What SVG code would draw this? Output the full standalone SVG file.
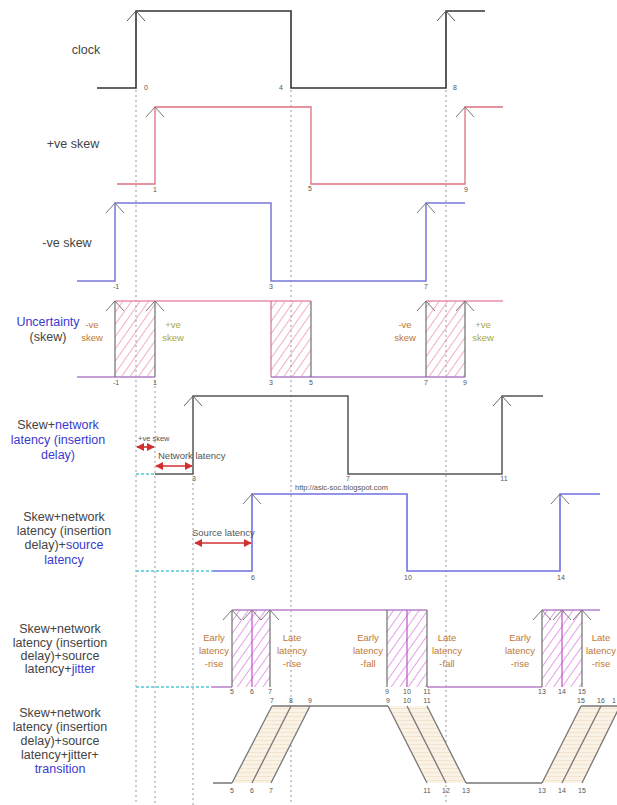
<svg xmlns="http://www.w3.org/2000/svg" xmlns:xlink="http://www.w3.org/1999/xlink" width="617" height="805" viewBox="0 0 617 805">
<style>
.w{fill:none;stroke-linejoin:miter}
.clk{stroke:#333;stroke-width:1.6}
.pos{stroke:#e07080;stroke-width:1.3}
.neg{stroke:#7878d8;stroke-width:1.5}
.ut{stroke:#e890b0;stroke-width:1.4}
.ub{stroke:#b080c8;stroke-width:1.4}
.edge{stroke:#707070;stroke-width:1.2}
.net{stroke:#555;stroke-width:1.5}
.src{stroke:#7070e0;stroke-width:1.6}
.jit{stroke:#b880c8;stroke-width:1.4}
.mid{stroke:#c050c8;stroke-width:1.2}
.tr{stroke:#777;stroke-width:1.3}
.dot{stroke:#999;stroke-width:1;stroke-dasharray:2 3}
.cy{stroke:#50c8d8;stroke-width:1.4;stroke-dasharray:3 2}
.arr{stroke:#d03030;stroke-width:1.6;marker-start:url(#ah);marker-end:url(#ah)}
text{font-family:"Liberation Sans",Arial,sans-serif}
.lbl{font-size:12.5px;fill:#444;text-anchor:middle}
.b{fill:#3a3ad0}
.num{font-size:7px;fill:#555;text-anchor:middle}
.so{font-size:9.5px;fill:#c07838;text-anchor:middle}
.sg{font-size:9.5px;fill:#a8a848;text-anchor:middle}
.an{font-size:9.5px;fill:#555}
</style>
<defs>
<path id="chev" d="M-9,10 L0,0 L9,10" fill="none"/>
<marker id="ah" viewBox="0 0 10 10" refX="9" refY="5" markerWidth="5" markerHeight="5" orient="auto-start-reverse"><path d="M0,0 L10,5 L0,10 Z" fill="#d03030"/></marker>
<pattern id="hR" patternUnits="userSpaceOnUse" width="7" height="7" patternTransform="rotate(35)"><line x1="0" y1="0" x2="0" y2="7" stroke="#e87898" stroke-width="1.2"/></pattern>
<pattern id="hM" patternUnits="userSpaceOnUse" width="7" height="7" patternTransform="rotate(35)"><line x1="0" y1="0" x2="0" y2="7" stroke="#d060d8" stroke-width="1.2"/></pattern>
<pattern id="tf" patternUnits="userSpaceOnUse" width="4" height="4"><rect width="4" height="4" fill="#fbf2e6"/><line x1="0" y1="0.5" x2="4" y2="0.5" stroke="#f3e4d0" stroke-width="1"/></pattern>
</defs>
<rect width="617" height="805" fill="#fff"/>

<g id="guides">
<line class="dot" x1="136" y1="90" x2="136" y2="805"/>
<line class="dot" x1="291" y1="90" x2="291" y2="805"/>
<line class="dot" x1="446" y1="90" x2="446" y2="805"/>
<line class="dot" x1="155" y1="381" x2="155" y2="805"/>
<line class="dot" x1="193" y1="478" x2="193" y2="805"/>
</g>

<g id="clock">
<text class="lbl" x="86" y="54">clock</text>
<path class="w clk" d="M97,88 H136 V11 H291 V88 H446 V11 H485"/>
<use href="#chev" x="136" y="11" stroke="#555" stroke-width="1"/>
<use href="#chev" x="446" y="11" stroke="#555" stroke-width="1"/>
<text class="num" x="146" y="90">0</text>
<text class="num" x="281" y="90">4</text>
<text class="num" x="455" y="90">8</text>
</g>

<g id="pos-skew">
<text class="lbl" x="73" y="148">+ve skew</text>
<path class="w pos" d="M117,184 H155 V107 H311 V184 H465 V107 H503"/>
<use href="#chev" x="155" y="107" stroke="#777" stroke-width="1"/>
<use href="#chev" x="465" y="107" stroke="#777" stroke-width="1"/>
<text class="num" x="155" y="192">1</text>
<text class="num" x="310" y="191">5</text>
<text class="num" x="466" y="192">9</text>
</g>

<g id="neg-skew">
<text class="lbl" x="67" y="247">-ve skew</text>
<path class="w neg" d="M77,281 H115 V203 H271 V281 H426 V203 H465"/>
<use href="#chev" x="115" y="203" stroke="#777" stroke-width="1"/>
<use href="#chev" x="426" y="203" stroke="#777" stroke-width="1"/>
<text class="num" x="116" y="289">-1</text>
<text class="num" x="271" y="289">3</text>
<text class="num" x="426" y="289">7</text>
</g>

<g id="uncertainty">
<text class="lbl b" x="48" y="326">Uncertainty</text>
<text class="lbl" x="48" y="341">(skew)</text>
<rect x="115" y="301" width="40" height="76" fill="url(#hR)"/>
<rect x="271" y="301" width="40" height="76" fill="url(#hR)"/>
<rect x="426" y="301" width="39" height="76" fill="url(#hR)"/>
<path class="w ut" d="M115,301 H311 M426,301 H503"/>
<path class="w ub" d="M77,377 H155 M271,377 H465"/>
<path class="w edge" d="M115,301 V377 M155,301 V377 M311,301 V377 M426,301 V377 M465,301 V377"/>
<path class="w" stroke="#d87090" stroke-width="1.2" d="M271,301 V377"/>
<use href="#chev" x="115" y="301" stroke="#777" stroke-width="1"/>
<use href="#chev" x="155" y="301" stroke="#777" stroke-width="1"/>
<use href="#chev" x="426" y="301" stroke="#777" stroke-width="1"/>
<use href="#chev" x="465" y="301" stroke="#777" stroke-width="1"/>
<text class="so" x="92" y="328">-ve</text>
<text class="so" x="92" y="341">skew</text>
<text class="sg" x="173" y="328">+ve</text>
<text class="sg" x="173" y="341">skew</text>
<text class="so" x="405" y="328">-ve</text>
<text class="so" x="405" y="341">skew</text>
<text class="sg" x="483" y="328">+ve</text>
<text class="sg" x="483" y="341">skew</text>
<text class="num" x="116" y="385">-1</text>
<text class="num" x="155" y="385">1</text>
<text class="num" x="271" y="385">3</text>
<text class="num" x="311" y="385">5</text>
<text class="num" x="426" y="385">7</text>
<text class="num" x="465" y="385">9</text>
</g>

<g id="network-latency">
<text class="lbl" x="58" y="429">Skew+<tspan class="b">network</tspan></text>
<text class="lbl b" x="58" y="444">latency (insertion</text>
<text class="lbl b" x="58" y="459">delay)</text>
<line class="cy" x1="136" y1="474" x2="155" y2="474"/>
<path class="w net" d="M155,474 H193 V396 H348 V474 H502 V396 H543"/>
<use href="#chev" x="193" y="396" stroke="#666" stroke-width="1"/>
<use href="#chev" x="502" y="396" stroke="#666" stroke-width="1"/>
<text class="an" x="138" y="441" style="font-size:7.5px">+ve skew</text>
<line class="arr" x1="137" y1="447" x2="154" y2="447"/>
<text class="an" x="158" y="459">Network latency</text>
<line class="arr" x1="156" y1="466" x2="192" y2="466"/>
<text class="num" x="194" y="481">3</text>
<text class="num" x="348" y="481">7</text>
<text class="num" x="504" y="481">11</text>
</g>

<g id="source-latency">
<text class="lbl" x="64" y="521">Skew+network</text>
<text class="lbl" x="64" y="535">latency (insertion</text>
<text class="lbl" x="64" y="549">delay)+<tspan class="b">source</tspan></text>
<text class="lbl b" x="64" y="564">latency</text>
<text x="295" y="490" style="font-size:7.5px;fill:#555">http://asic-soc.blogspot.com</text>
<line class="cy" x1="136" y1="571" x2="213" y2="571"/>
<path class="w src" d="M213,571 H252 V494 H407 V571 H560 V494 H600"/>
<use href="#chev" x="252" y="494" stroke="#777" stroke-width="1"/>
<use href="#chev" x="560" y="494" stroke="#777" stroke-width="1"/>
<text class="an" x="192" y="536">Source latency</text>
<line class="arr" x1="195" y1="543" x2="251" y2="543"/>
<text class="num" x="253" y="580">6</text>
<text class="num" x="408" y="580">10</text>
<text class="num" x="561" y="580">14</text>
</g>

<g id="jitter">
<text class="lbl" x="60" y="633">Skew+network</text>
<text class="lbl" x="60" y="647">latency (insertion</text>
<text class="lbl" x="60" y="660">delay)+source</text>
<text class="lbl" x="60" y="673">latency+<tspan class="b">jitter</tspan></text>
<line class="cy" x1="136" y1="687" x2="212" y2="687"/>
<rect x="232" y="610" width="38" height="77" fill="url(#hM)"/>
<rect x="387" y="610" width="40" height="77" fill="url(#hM)"/>
<rect x="542" y="610" width="40" height="77" fill="url(#hM)"/>
<path class="w jit" d="M212,687 H232 M427,687 H542 M232,610 H427 M542,610 H600"/>
<path class="w edge" d="M232,610 V687 M270,610 V687 M387,610 V687 M427,610 V687 M542,610 V687 M582,610 V687"/>
<path class="w mid" d="M252,610 V687 M407,610 V687 M562,610 V687"/>
<use href="#chev" x="232" y="610" stroke="#777" stroke-width="1"/>
<use href="#chev" x="252" y="610" stroke="#777" stroke-width="1"/>
<use href="#chev" x="270" y="610" stroke="#777" stroke-width="1"/>
<use href="#chev" x="542" y="610" stroke="#777" stroke-width="1"/>
<use href="#chev" x="562" y="610" stroke="#777" stroke-width="1"/>
<use href="#chev" x="582" y="610" stroke="#777" stroke-width="1"/>
<text class="so" x="214" y="641">Early</text>
<text class="so" x="214" y="654">latency</text>
<text class="so" x="214" y="667">-rise</text>
<text class="so" x="292" y="641">Late</text>
<text class="so" x="292" y="654">latency</text>
<text class="so" x="292" y="667">-rise</text>
<text class="so" x="368" y="641">Early</text>
<text class="so" x="368" y="654">latency</text>
<text class="so" x="368" y="667">-fall</text>
<text class="so" x="447" y="641">Late</text>
<text class="so" x="447" y="654">latency</text>
<text class="so" x="447" y="667">-fall</text>
<text class="so" x="520" y="641">Early</text>
<text class="so" x="520" y="654">latency</text>
<text class="so" x="520" y="667">-rise</text>
<text class="so" x="601" y="641">Late</text>
<text class="so" x="601" y="654">latency</text>
<text class="so" x="601" y="667">-rise</text>
<text class="num" x="232" y="694">5</text>
<text class="num" x="252" y="694">6</text>
<text class="num" x="270" y="694">7</text>
<text class="num" x="387" y="694">9</text>
<text class="num" x="407" y="694">10</text>
<text class="num" x="427" y="694">11</text>
<text class="num" x="542" y="694">13</text>
<text class="num" x="562" y="694">14</text>
<text class="num" x="582" y="694">15</text>
</g>

<g id="transition">
<text class="lbl" x="60" y="717">Skew+network</text>
<text class="lbl" x="60" y="731">latency (insertion</text>
<text class="lbl" x="60" y="745">delay)+source</text>
<text class="lbl" x="60" y="759">latency+jitter+</text>
<text class="lbl b" x="60" y="773">transition</text>
<polygon points="232,783 272,706 310,706 271,783" fill="url(#tf)"/>
<polygon points="388,706 427,706 466,783 427,783" fill="url(#tf)"/>
<polygon points="542,783 581,706 620,706 582,783" fill="url(#tf)"/>
<path class="w tr" d="M213,783 H232 M466,783 H542 M272,706 H388 M581,706 H617"/>
<path class="w tr" d="M232,783 L272,706 M252,783 L291,706 M271,783 L310,706"/>
<path class="w tr" d="M388,706 L427,783 M407,706 L446,783 M427,706 L466,783"/>
<path class="w tr" d="M542,783 L581,706 M562,783 L601,706 M582,783 L620,706"/>
<text class="num" x="272" y="703">7</text>
<text class="num" x="291" y="703">8</text>
<text class="num" x="310" y="703">9</text>
<text class="num" x="388" y="703">9</text>
<text class="num" x="407" y="703">10</text>
<text class="num" x="427" y="703">11</text>
<text class="num" x="581" y="703">15</text>
<text class="num" x="601" y="703">16</text>
<text class="num" x="614" y="703">1</text>
<text class="num" x="232" y="793">5</text>
<text class="num" x="252" y="793">6</text>
<text class="num" x="271" y="793">7</text>
<text class="num" x="427" y="793">11</text>
<text class="num" x="446" y="793">12</text>
<text class="num" x="466" y="793">13</text>
<text class="num" x="542" y="793">13</text>
<text class="num" x="562" y="793">14</text>
<text class="num" x="582" y="793">15</text>
</g>
</svg>
